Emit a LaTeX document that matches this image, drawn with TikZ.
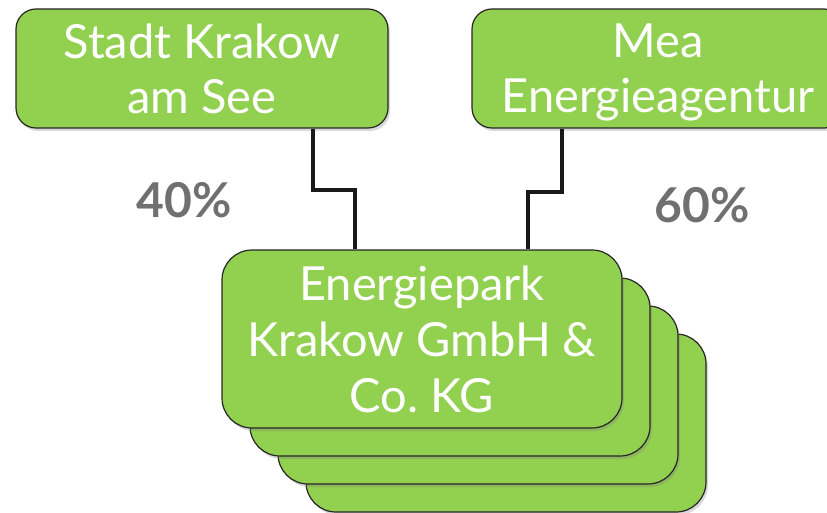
\documentclass[tikz,border=0pt]{standalone}
\usepackage{fontspec}
\setmainfont{Lato}
\usetikzlibrary{positioning,shadows}
\definecolor{orggreen}{HTML}{92D050}
\definecolor{sharegray}{HTML}{707070}
\tikzset{orgbox/.style={draw=black!85,line width=1.2pt,fill=orggreen,rounded corners=20pt,text=white,align=center,text depth=0pt,minimum width=372pt,minimum height=119pt,font=\fontsize{47}{55}\selectfont,drop shadow={shadow xshift=2pt,shadow yshift=-3pt,opacity=0.3}}}
\tikzset{stackbox/.style={orgbox,minimum width=400pt,minimum height=178pt,rounded corners=30pt,font=\fontsize{47}{56}\selectfont}}
\tikzset{share/.style={text=sharegray,font=\bfseries\fontsize{48}{50}\selectfont}}
\tikzset{link/.style={line width=4pt,black!90}}

\begin{document}
\begin{tikzpicture}[x=1pt,y=-1pt]
\path[use as bounding box,clip] (0,0) rectangle (827,513);
%% owners
\node[orgbox] (stadt) at (202,68.5) {Stadt Krakow\\am See};
\node[orgbox] (mea) at (658,68.5) {Mea\\Energieagentur};
%% stacked company boxes, back to front
\foreach \i/\d in {3/84,2/56,1/28}
	\node[stackbox] (stack\i) at (422+\d,339+\d) {};
\node[stackbox] (epk) at (422,339) {Energiepark\\Krakow GmbH \&\\Co.\ KG};

\draw[link] ([xshift=111pt]stadt.south) -- ++(0,61) -| ([xshift=-67pt]epk.north);
\draw[link] ([xshift=-96pt]mea.south) -- ++(0,63) -| ([xshift=106pt]epk.north);

\node[share] (pctstadt) at (184,200) {40\%};
\node[share] (pctmea) at (702,205) {60\%};
\end{tikzpicture}
\end{document}
